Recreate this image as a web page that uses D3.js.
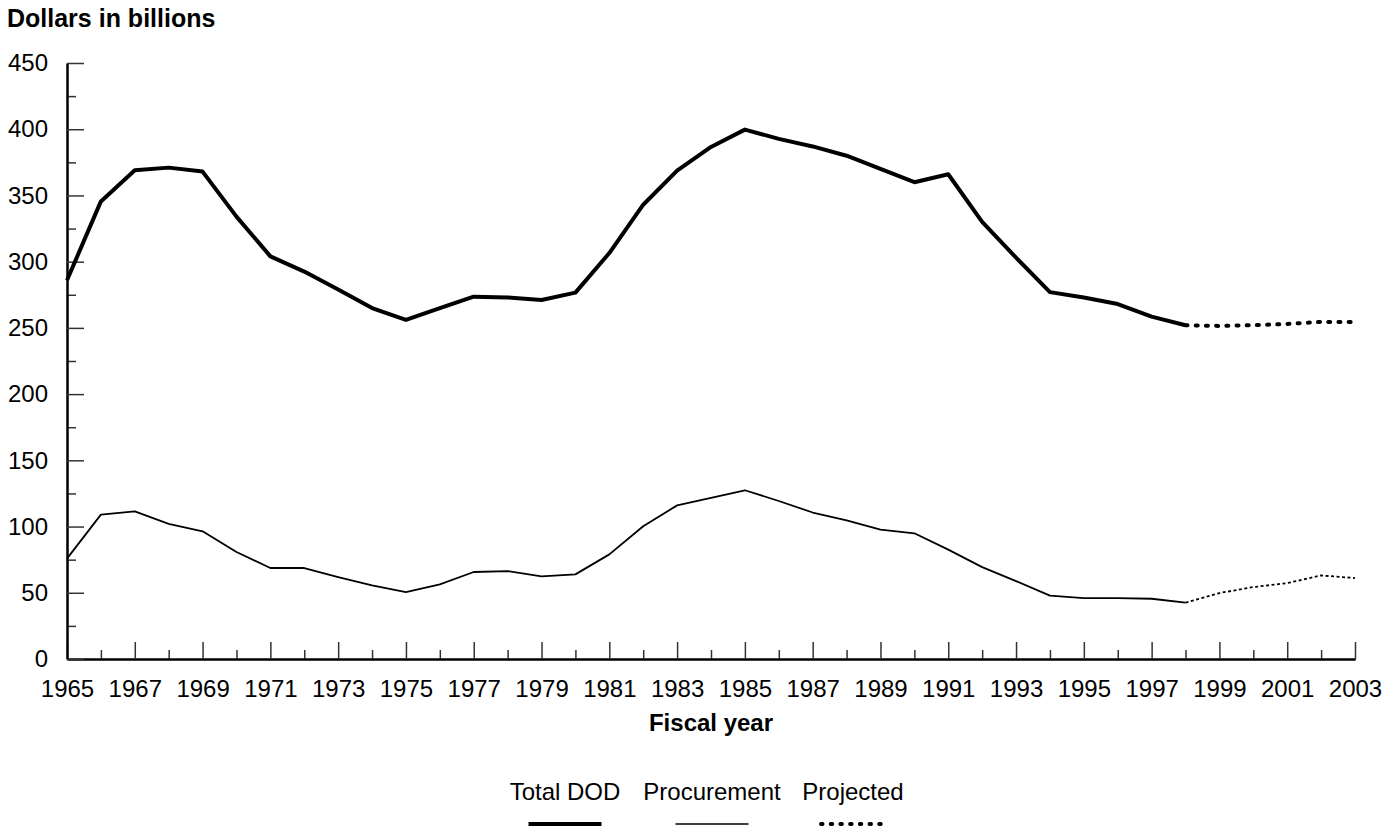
<!DOCTYPE html>
<html>
<head>
<meta charset="utf-8">
<script src="https://cdn.jsdelivr.net/npm/d3@7"></script>
<style>
  body { margin: 0; background: #fff; }
  svg { font-family: "Liberation Sans", Arial, sans-serif; }
</style>
</head>
<body>
<svg id="vis"></svg>
<script>
(function() {
  // fiscal years, actual (1965-1998) and projected (1998-2003)
  var years = d3.range(1965, 1999);
  var totalDOD = [286, 345.5, 369, 371, 368, 334, 304, 292.5, 279, 265, 256, 265, 273.6, 273, 271, 276.6,
    306.5, 343, 368.7, 386.6, 399.7, 392.7, 387, 380, 370, 360, 366, 330, 303, 277, 273, 268, 258.5, 252];
  var procurement = [75.8, 109, 111.5, 102, 96.4, 80.8, 68.7, 68.7, 61.9, 55.6, 50.5, 56.3, 65.7, 66.4, 62.4, 63.9,
    79, 100.2, 116, 121.6, 127.4, 119.3, 110.6, 104.7, 97.7, 94.9, 82.6, 69.4, 58.8, 47.8, 46, 46, 45.5, 42.5];

  var projYears = [1998, 1999, 2000, 2001, 2002, 2003];
  var projTotal = [252, 251.5, 252, 253, 254.5, 254.5];
  var projProcurement = [42.5, 49.8, 54.3, 57.3, 63.1, 61.1];

  var yTicks = [0, 50, 100, 150, 200, 250, 300, 350, 400, 450];
  var legendLabels = ["Total DOD", "Procurement", "Projected"];

  var width = 1397, height = 829;
  var left = 67, right = 1355, top = 63, bottom = 659;

  var chart = d3.select("#vis")
    .attr("width", width)
    .attr("height", height);

  var x = d3.scaleLinear().domain([1965, 2003]).range([left, right]);
  var y = d3.scaleLinear().domain([0, 450]).range([bottom, top]);

  // minor ticks first so the main axes sit on top
  chart.append("g")
    .attr("transform", "translate(0," + bottom + ")")
    .call(d3.axisBottom(x).tickValues(d3.range(1966, 2003, 2)).tickSize(-9).tickSizeOuter(0).tickFormat(""))
    .call(styleAxis);

  chart.append("g")
    .attr("transform", "translate(" + left + ",0)")
    .call(d3.axisLeft(y).tickValues(d3.range(25, 450, 50)).tickSize(-9).tickSizeOuter(0).tickFormat(""))
    .call(styleAxis);

  chart.append("g")
    .attr("transform", "translate(0," + bottom + ")")
    .call(d3.axisBottom(x).tickValues(d3.range(1965, 2004, 2)).tickSize(-17).tickSizeOuter(0)
      .tickPadding(21).tickFormat(d3.format("d")))
    .call(styleAxis);

  chart.append("g")
    .attr("transform", "translate(" + left + ",0)")
    .call(d3.axisLeft(y).tickValues(yTicks).tickSize(-17).tickSizeOuter(0).tickPadding(19))
    .call(styleAxis);

  function styleAxis(g) {
    g.select(".domain").attr("stroke", "#000").attr("stroke-width", 2);
    g.selectAll(".tick line").attr("stroke", "#333").attr("stroke-width", 1.5);
    g.selectAll(".tick text").attr("font-size", 24).attr("fill", "#000")
      .attr("font-family", "Liberation Sans, Arial, sans-serif");
  }

  var line = d3.line()
    .x(function(d) { return x(d[0]); })
    .y(function(d) { return y(d[1]); });

  var series = [
    { data: d3.zip(years, totalDOD), w: 4, dash: null, cap: "butt" },
    { data: d3.zip(years, procurement), w: 1.8, dash: null, cap: "butt" },
    { data: d3.zip(projYears, projTotal), w: 4, dash: "2,8.2", cap: "round" },
    { data: d3.zip(projYears, projProcurement), w: 1.8, dash: "3,2.5", cap: "butt" }
  ];

  chart.selectAll("path.series")
    .data(series)
    .enter()
    .append("path")
    .attr("class", "series")
    .attr("fill", "none")
    .attr("stroke", "#000")
    .attr("stroke-linejoin", "round")
    .attr("stroke-width", function(d) { return d.w; })
    .attr("stroke-linecap", function(d) { return d.cap; })
    .attr("stroke-dasharray", function(d) { return d.dash; })
    .attr("d", function(d) { return line(d.data); });

  // titles
  chart.append("text")
    .attr("x", 7).attr("y", 27)
    .attr("font-size", 25).attr("font-weight", "bold")
    .text("Dollars in billions");

  chart.append("text")
    .attr("x", (left + right) / 2).attr("y", 731)
    .attr("text-anchor", "middle")
    .attr("font-size", 24).attr("font-weight", "bold")
    .text("Fiscal year");

  // legend
  var legendX = [565, 712, 853];
  var legendStyle = [
    { w: 4, dash: null, cap: "butt" },
    { w: 1.5, dash: null, cap: "butt" },
    { w: 4, dash: "1.5,8.2", cap: "round" }
  ];

  var legend = chart.selectAll("g.legend")
    .data(legendLabels)
    .enter()
    .append("g")
    .attr("class", "legend")
    .attr("transform", function(d, i) { return "translate(" + legendX[i] + ",0)"; });

  legend.append("text")
    .attr("y", 800)
    .attr("text-anchor", "middle")
    .attr("font-size", 24)
    .text(function(d) { return d; });

  legend.append("line")
    .attr("x1", function(d, i) { return i === 2 ? -32 : -36.5; })
    .attr("x2", function(d, i) { return i === 2 ? 34 : 36.5; })
    .attr("y1", 824).attr("y2", 824)
    .attr("stroke", "#000")
    .attr("stroke-width", function(d, i) { return legendStyle[i].w; })
    .attr("stroke-linecap", function(d, i) { return legendStyle[i].cap; })
    .attr("stroke-dasharray", function(d, i) { return legendStyle[i].dash; });

}());
</script>
</body>
</html>
